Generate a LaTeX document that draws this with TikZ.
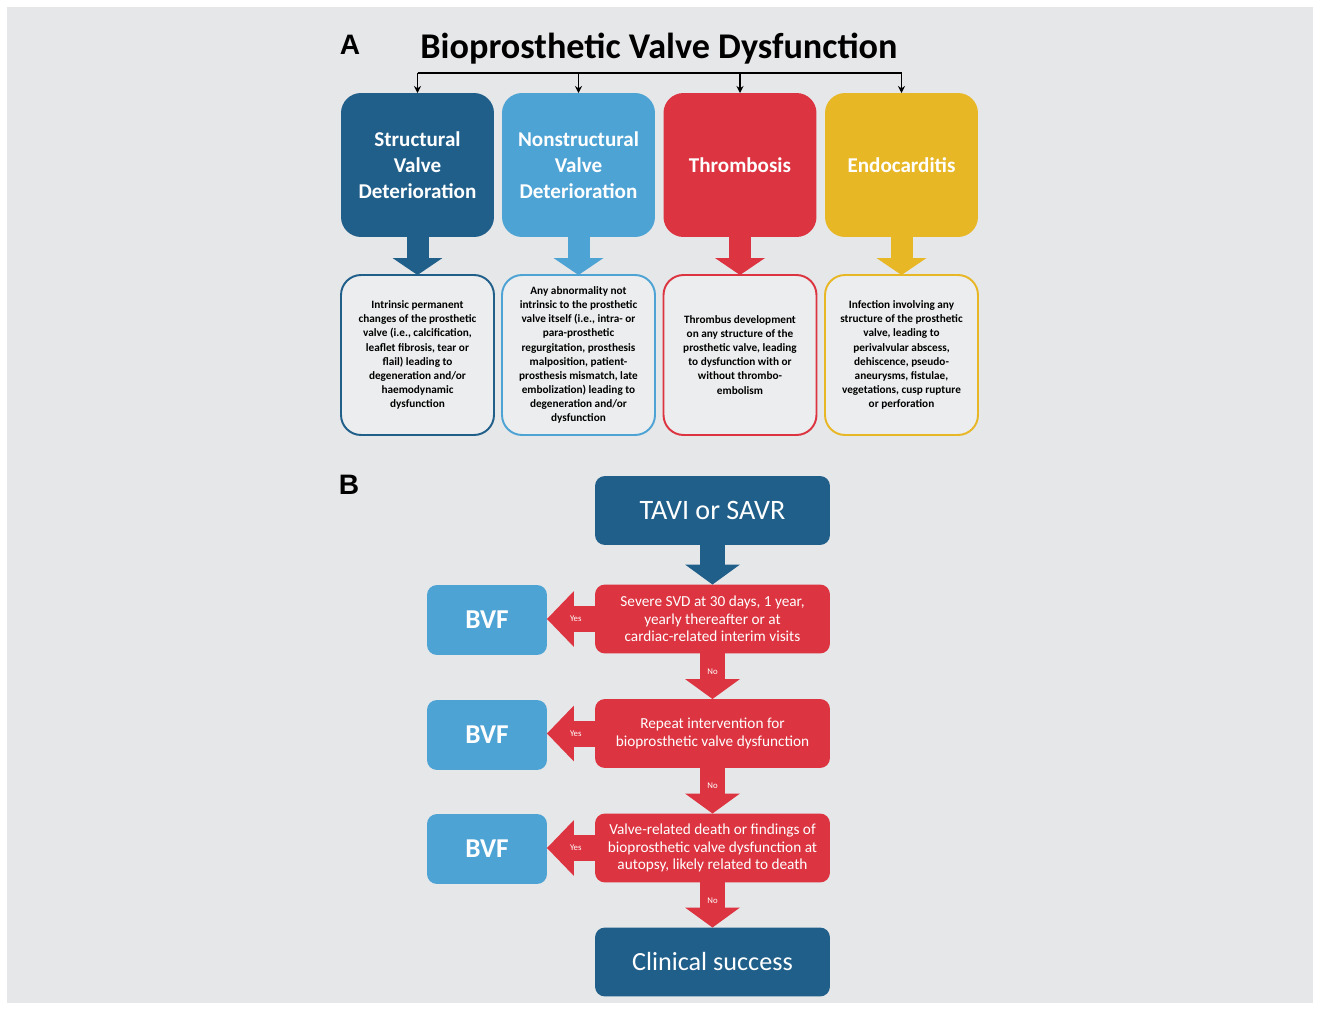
\documentclass[tikz,border=0pt]{standalone}
\usepackage{fontspec}
\setmainfont{Carlito}
\newfontfamily\lblfont{Liberation Sans}
\usetikzlibrary{arrows.meta,positioning,calc}
\definecolor{bgray}{RGB}{230,231,233}
\definecolor{dkblue}{RGB}{32,95,138}
\definecolor{ltblue}{RGB}{78,163,213}
\definecolor{bvred}{RGB}{220,52,64}
\definecolor{bvgold}{RGB}{232,183,38}
\tikzset{
  catbox/.style={rounded corners=0.4cm, minimum width=3.06cm, minimum height=2.88cm, text=white,
    font=\bfseries\fontsize{12}{14.8}\selectfont, align=center, inner sep=0pt, outer sep=0pt},
  descbox/.style={draw, line width=1.1pt, rounded corners=0.4cm, fill=white!25!bgray, minimum width=3.06cm,
    minimum height=3.2cm, font=\bfseries\fontsize{6.4}{8}\selectfont, align=center, inner sep=0pt, outer sep=0pt},
  flowbox/.style={rounded corners=0.2cm, minimum width=4.7cm, minimum height=1.38cm, text=white,
    align=center, inner sep=0pt, outer sep=0pt},
  bvfbox/.style={fill=ltblue, rounded corners=0.2cm, minimum width=2.4cm, minimum height=1.4cm, text=white,
    font=\bfseries\fontsize{15.5}{17}\selectfont, inner sep=0pt, outer sep=0pt},
  partlbl/.style={font=\lblfont\bfseries\fontsize{16}{18}\selectfont, inner sep=0pt},
  catarrow/.style={line width=0.44cm, -{Triangle[width=1.0cm,length=0.34cm,line width=0pt]}},
  noarrow/.style={line width=0.5cm, -{Triangle[width=1.1cm,length=0.4cm,line width=0pt]}},
  yesarrow/.style={line width=0.52cm, -{Triangle[width=1.12cm,length=0.54cm,line width=0pt]}},
  yntag/.style={text=white, font=\fontsize{5}{6}\selectfont, inner sep=0pt}
}
\begin{document}
\begin{tikzpicture}[x=0.02cm,y=-0.02cm]
  \fill[white] (0,0) rectangle (1319,1010);
  \fill[bgray] (7,7) rectangle (1313,1003);
  % A: four kinds of dysfunction
  \node[partlbl] (labA) at (350,45) {A};
  \node[font=\bfseries\fontsize{20.6}{24}\selectfont] (title) at (659,49) {Bioprosthetic Valve Dysfunction};
  \foreach \i/\x/\c/\t/\d in {
    1/417.5/dkblue/{Structural\\Valve\\Deterioration}/{Intrinsic permanent\\changes of the prosthetic\\valve (i.e., calcification,\\leaflet fibrosis, tear or\\flail) leading to\\degeneration and/or\\haemodynamic\\dysfunction},
    2/578.5/ltblue/{Nonstructural\\Valve\\Deterioration}/{Any abnormality not\\intrinsic to the prosthetic\\valve itself (i.e., intra- or\\para-prosthetic\\regurgitation, prosthesis\\malposition, patient-\\prosthesis mismatch, late\\embolization) leading to\\degeneration and/or\\dysfunction},
    3/740/bvred/{Thrombosis}/{Thrombus development\\on any structure of the\\prosthetic valve, leading\\to dysfunction with or\\without thrombo-\\embolism},
    4/901.5/bvgold/{Endocarditis}/{Infection involving any\\structure of the prosthetic\\valve, leading to\\perivalvular abscess,\\dehiscence, pseudo-\\aneurysms,  fistulae,\\vegetations, cusp rupture\\or perforation}} {
    \node[catbox, fill=\c] (t\i) at (\x,165) {\t};
    \node[descbox, draw=\c] (d\i) at (\x,355) {\d};
    \draw[catarrow, \c] (t\i) -- (d\i);
  }
  \coordinate (brk) at (0,73);
  \draw[line width=0.9pt] (t1.north |- brk) -- (t4.north |- brk);
  \foreach \i in {1,...,4} \draw[line width=0.9pt, -{Stealth[length=4pt,width=4pt]}] (t\i.north |- brk) -- (t\i.north);
  % B: BVF flow chart
  \node[partlbl] (labB) at (349,485) {B};
  \node[flowbox, fill=dkblue, font=\fontsize{16}{19}\selectfont] (tavi) at (712.5,510.5) {TAVI or SAVR};
  \node[flowbox, fill=bvred, font=\fontsize{8.7}{10}\selectfont] (q1) at (712.5,619) {Severe SVD at 30 days, 1 year,\\yearly thereafter or at\\cardiac-related interim visits};
  \node[flowbox, fill=bvred, font=\fontsize{8.7}{10}\selectfont] (q2) at (712.5,733.5) {Repeat intervention for\\bioprosthetic valve dysfunction};
  \node[flowbox, fill=bvred, font=\fontsize{8.7}{10}\selectfont] (q3) at (712.5,848) {Valve-related death or findings of\\bioprosthetic valve dysfunction at\\autopsy, likely related to death};
  \node[flowbox, fill=dkblue, font=\fontsize{14.9}{17}\selectfont] (succ) at (712.5,962) {Clinical success};
  \draw[noarrow, dkblue] (tavi) -- (q1);
  \draw[noarrow, bvred] (q1) -- node[yntag, pos=0.4] (no1) {No} (q2);
  \draw[noarrow, bvred] (q2) -- node[yntag, pos=0.4] (no2) {No} (q3);
  \draw[noarrow, bvred] (q3) -- node[yntag, pos=0.4] (no3) {No} (succ);
  \foreach \i/\y in {1/620,2/735,3/849} {
    \node[bvfbox] (bvf\i) at (487,\y) {BVF};
    \draw[yesarrow, bvred] (q\i.west) -- node[yntag, pos=0.4] (yes\i) {Yes} (bvf\i.east |- q\i.west);
  }
\end{tikzpicture}
\end{document}
